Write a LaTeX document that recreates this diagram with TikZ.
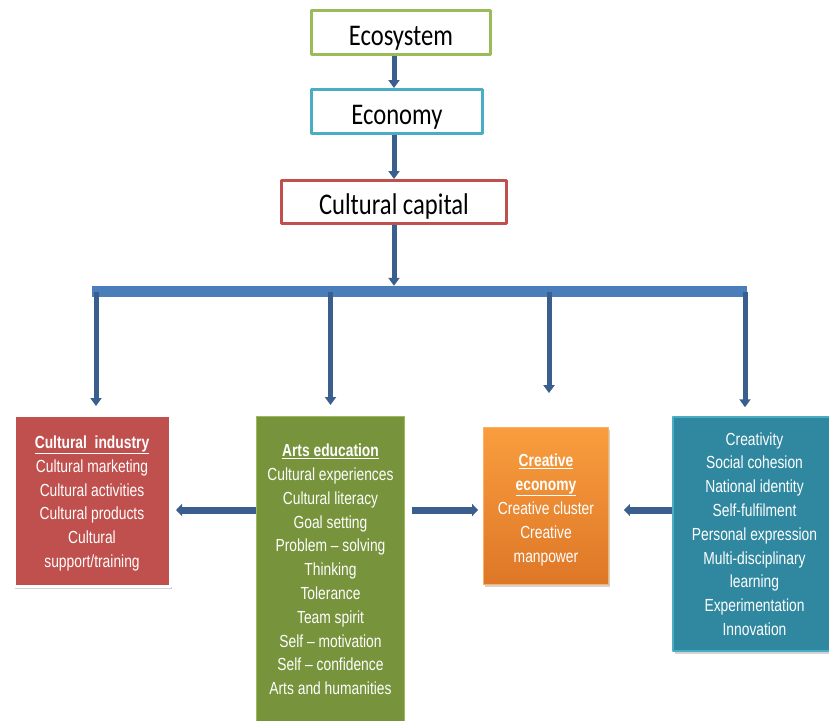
\documentclass[tikz,border=0pt]{standalone}
\usepackage{fontspec}
\setmainfont[FakeStretch=0.79]{Liberation Sans}
\newfontfamily\topfont[FakeStretch=0.82]{Carlito}
\usetikzlibrary{arrows.meta,shadows,calc}
\definecolor{ecogreen}{HTML}{9BBB59}
\definecolor{econcyan}{HTML}{4BACC6}
\definecolor{capred}{HTML}{C0504D}
\definecolor{artsgreen}{HTML}{77933C}
\definecolor{oratop}{HTML}{F99D3E}
\definecolor{orabot}{HTML}{DE7727}
\definecolor{tealfill}{HTML}{2F889F}
\definecolor{arrblue}{HTML}{3A5F8E}
\definecolor{barblue}{HTML}{4A7EBB}
\begin{document}
\begin{tikzpicture}[x=1pt,y=-1pt,line join=round,
	top/.style={draw,line width=3pt,fill=white,inner sep=0pt,text height=25pt,text depth=0pt,font=\topfont\fontsize{30}{36}\selectfont},
	card/.style={inner sep=0pt,align=center,text=white,font=\fontsize{17.5}{23.8}\selectfont},
	shade/.style={drop shadow={opacity=.35,shadow xshift=1.5pt,shadow yshift=-2.5pt}},
	arr/.style={-{Triangle[width=11pt,length=8pt]},line width=5pt,draw=arrblue},
	harr/.style={-{Triangle[width=12pt,length=6pt]},line width=7pt,draw=arrblue}
	]
	\useasboundingbox (0,0) rectangle (829,720);
	\node[top,draw=ecogreen,minimum width=179,minimum height=44] (eco) at (401,32.5) {Ecosystem};
	\node[top,draw=econcyan,minimum width=171,minimum height=44] (econ) at (397,111.5) {Economy};
	\node[top,draw=capred,minimum width=225,minimum height=43] (capital) at (394,202) {Cultural capital};
	\node[fill=barblue,minimum width=655,minimum height=11,inner sep=0pt] (bar) at (419.5,291.5) {};
	\coordinate (mid) at (0,510);
	\node[card,shade,fill=capred,draw=white,line width=3.5pt,minimum width=156.5,minimum height=171.5,text height=134pt,text depth=0pt] (ind) at (92,500.5)
		{\underline{\textbf{Cultural\ \ industry}}\\Cultural marketing\\Cultural activities\\Cultural products\\Cultural\\support/training};
	\node[card,fill=artsgreen,draw=ecogreen,line width=1pt,minimum width=148,minimum height=306] (arts) at (330.5,569.5)
		{\underline{\textbf{Arts education}}\\Cultural experiences\\Cultural literacy\\Goal setting\\Problem -- solving\\Thinking\\Tolerance\\Team spirit\\Self -- motivation\\Self -- confidence\\Arts and humanities};
	\node[card,shade,top color=oratop,bottom color=orabot,draw=oratop!80!white,line width=.8pt,minimum width=125,minimum height=157,text height=112pt,text depth=0pt] (cre) at (546,506)
		{\underline{\textbf{Creative}}\\\underline{\textbf{economy}}\\Creative cluster\\Creative\\manpower};
	\node[card,shade,fill=tealfill,draw=econcyan,line width=1.5pt,minimum width=163,minimum height=234] (teal) at (754.5,534)
		{Creativity\\Social cohesion\\National identity\\Self-fulfilment\\Personal expression\\Multi-disciplinary\\learning\\Experimentation\\Innovation};
	\draw[arr] (eco.south -| capital.north) -- (econ.north -| capital.north);
	\draw[arr] (econ.south -| capital.north) -- (capital.north);
	\draw[arr] (capital.south) -- (bar.north -| capital.south);
	\draw[arr] ($(bar.center -| ind.north)+(4,0)$) -- ($(ind.north)+(4,-7)$);
	\draw[arr] (bar.center -| arts.north) -- ($(arts.north)+(0,-11)$);
	\draw[arr] ($(bar.center -| cre.north)+(3,0)$) -- ($(cre.north)+(3,-34)$);
	\draw[arr] ($(bar.center -| teal.north)+(-9.5,0)$) -- ($(teal.north)+(-9.5,-9)$);
	\draw[harr,shorten >=4pt] (arts.west |- mid) -- (ind.east |- mid);
	\draw[harr,shorten <=7pt,shorten >=5pt] (arts.east |- mid) -- (cre.west |- mid);
	\draw[harr,shorten >=15pt] (teal.west |- mid) -- (cre.east |- mid);
\end{tikzpicture}
\end{document}
